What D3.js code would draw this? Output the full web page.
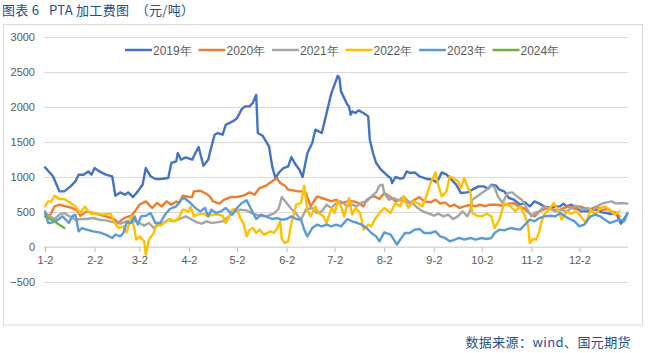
<!DOCTYPE html>
<html><head><meta charset="utf-8">
<script src="https://cdn.jsdelivr.net/npm/d3@7"></script>
<style>html,body{margin:0;padding:0;background:#fff;}svg{display:block;}</style>
</head><body><svg id="c" width="651" height="353"></svg>
<script>
// ---- data (day index: 1 = Jan 2) ----
const tickDays = [1,32,60,91,121,152,182,213,244,274,305,335];
const tickLabels = ["1-2","2-2","3-2","4-2","5-2","6-2","7-2","8-2","9-2","10-2","11-2","12-2"];
const yTicks = [-500,0,500,1000,1500,2000,2500,3000];
const seriesNames = ["2019年","2020年","2021年","2022年","2023年","2024年"];
const seriesColors = ["#4472C4","#ED7D31","#A5A5A5","#FFC000","#5B9BD5","#70AD47"];

const s2019 = [[1,1138],[6,1010],[10,795],[13,795],[17,866],[20,938],[22,1033],[25,1033],[28,1080],[30,1033],[32,1128],[35,1080],[39,1033],[43,1010],[45,733],[48,780],[51,747],[53,780],[56,714],[59,795],[62,890],[64,1128],[67,1010],[70,971],[73,971],[78,985],[80,1200],[83,1223],[84,1342],[86,1247],[89,1280],[93,1247],[95,1342],[97,1428],[100,1161],[103,1247],[104,1342],[107,1604],[109,1628],[112,1604],[114,1747],[117,1780],[119,1804],[121,1842],[124,1970],[126,2009],[129,2009],[131,2066],[133,2175],[134,1628],[137,1590],[141,1437],[143,1152],[145,985],[147,1057],[150,1128],[153,1152],[155,1285],[157,1200],[160,1104],[162,1000],[165,1342],[168,1485],[170,1676],[174,1628],[177,1914],[180,2199],[184,2447],[185,2413],[186,2223],[190,2033],[191,2009],[192,1890],[193,1937],[195,1914],[197,1952],[200,1914],[203,1866],[204,1533],[206,1342],[208,1200],[211,1104],[215,1019],[217,985],[218,914],[220,1000],[223,976],[225,985],[227,1080],[229,1057],[232,1066],[235,1010],[240,971],[243,962],[246,923],[249,1066],[252,1033],[255,962],[258,890],[261,771],[265,780],[268,819],[272,866],[275,866],[278,833],[280,890],[283,876],[285,819],[288,795],[291,700],[294,676],[298,604],[301,638],[304,581],[307,652],[310,619],[313,581],[317,557],[320,581],[323,581],[325,619],[327,581],[330,604],[333,557],[336,509],[340,509],[343,533],[346,533],[349,495],[352,486],[355,471],[358,486],[361,333],[362,367],[365,476]];
const s2020 = [[1,476],[4,447],[7,580],[10,604],[14,580],[18,557],[21,524],[23,447],[27,509],[31,486],[35,462],[39,438],[44,400],[47,343],[49,390],[52,428],[55,447],[58,533],[60,604],[64,652],[68,557],[71,628],[74,580],[77,652],[80,604],[83,652],[85,628],[87,733],[91,714],[93,714],[94,795],[98,804],[101,771],[104,723],[106,652],[110,619],[113,676],[117,714],[121,714],[125,733],[129,780],[132,747],[135,842],[139,876],[143,938],[146,985],[148,914],[151,876],[153,819],[156,809],[159,795],[162,795],[164,771],[167,580],[171,723],[174,700],[177,676],[180,652],[183,676],[186,628],[190,652],[194,652],[197,628],[200,580],[202,676],[205,714],[207,723],[210,685],[213,771],[217,714],[220,652],[223,676],[226,652],[229,628],[232,676],[235,714],[238,652],[242,638],[245,676],[248,619],[251,638],[254,580],[257,604],[260,557],[263,580],[267,604],[270,580],[273,604],[276,580],[279,604],[283,604],[287,590],[291,619],[294,628],[297,580],[300,557],[304,476],[307,438],[310,509],[315,557],[319,533],[322,509],[325,557],[329,580],[332,543],[335,580],[338,557],[342,543],[346,580],[349,524],[352,543],[355,509],[358,486],[360,438]];
const s2021 = [[1,476],[4,438],[7,400],[10,462],[13,486],[17,428],[20,390],[23,400],[27,400],[31,414],[35,390],[39,381],[44,352],[48,333],[52,367],[56,381],[60,343],[63,305],[66,343],[69,271],[72,319],[75,343],[78,390],[81,367],[85,400],[89,438],[93,390],[96,352],[99,333],[102,367],[105,343],[108,352],[112,367],[116,438],[119,495],[123,533],[127,524],[131,476],[135,447],[139,438],[144,476],[147,543],[149,714],[152,628],[155,543],[158,476],[161,390],[164,533],[168,557],[171,486],[174,509],[177,604],[180,557],[183,628],[186,652],[190,580],[193,604],[196,580],[199,638],[202,652],[205,723],[208,780],[210,876],[212,890],[213,771],[216,676],[219,700],[222,666],[225,723],[228,652],[231,619],[234,557],[237,509],[241,476],[244,447],[247,476],[250,438],[253,462],[256,400],[259,438],[262,509],[265,438],[267,533],[268,676],[271,723],[274,771],[277,819],[280,876],[282,857],[284,723],[287,628],[290,771],[293,780],[296,723],[299,676],[302,557],[305,438],[307,486],[310,509],[313,580],[317,543],[320,509],[323,533],[327,509],[330,557],[333,590],[336,533],[340,557],[343,509],[346,580],[349,619],[352,638],[355,652],[358,619],[361,628],[365,619]];
const s2022 = [[1,580],[3,652],[5,652],[7,733],[10,685],[13,685],[17,628],[20,580],[23,486],[26,580],[28,509],[30,476],[33,476],[37,462],[42,476],[44,367],[47,271],[50,295],[52,209],[55,438],[57,248],[58,105],[60,152],[63,81],[64,-109],[66,105],[69,200],[71,343],[73,305],[76,352],[79,400],[82,367],[85,428],[87,533],[91,509],[92,580],[94,438],[96,462],[100,476],[103,438],[105,462],[109,462],[112,447],[114,343],[118,533],[121,543],[123,414],[125,343],[127,152],[129,248],[131,271],[133,200],[135,248],[138,176],[142,224],[144,200],[146,257],[148,367],[149,114],[151,57],[153,81],[155,343],[158,604],[161,628],[163,876],[165,520],[167,438],[170,580],[172,486],[175,438],[177,343],[180,557],[182,486],[184,652],[186,580],[188,438],[191,700],[193,462],[195,557],[198,486],[200,248],[203,319],[205,295],[207,390],[210,486],[213,557],[217,486],[220,628],[223,580],[225,723],[228,557],[231,652],[234,628],[237,580],[240,771],[242,914],[244,1010],[245,1066],[247,866],[249,723],[252,795],[254,1010],[256,985],[259,938],[261,842],[263,985],[265,866],[267,771],[268,486],[271,447],[274,438],[277,476],[280,438],[282,271],[285,390],[288,628],[292,580],[295,509],[298,580],[301,438],[303,295],[304,57],[306,114],[308,105],[310,224],[311,343],[313,462],[316,533],[319,628],[322,509],[324,390],[327,509],[330,476],[333,509],[336,438],[339,343],[342,533],[345,462],[348,557],[351,580],[354,533],[357,462],[360,509]];
const s2023 = [[1,509],[3,343],[6,352],[9,390],[12,438],[16,343],[18,438],[20,462],[22,224],[24,271],[27,248],[31,224],[35,209],[39,176],[43,129],[45,176],[48,152],[50,200],[52,352],[55,343],[57,438],[59,319],[61,438],[64,447],[67,486],[70,343],[73,343],[76,462],[79,543],[83,580],[86,676],[88,700],[92,628],[95,557],[98,509],[101,557],[103,438],[105,533],[108,486],[111,509],[114,557],[118,462],[121,557],[124,628],[127,666],[129,580],[131,486],[133,400],[136,462],[139,438],[143,400],[146,414],[149,390],[152,400],[155,438],[158,400],[161,390],[163,248],[165,152],[168,271],[171,319],[174,295],[177,319],[180,295],[183,319],[186,295],[190,400],[193,367],[196,343],[199,319],[202,271],[205,200],[208,152],[210,81],[213,209],[217,176],[219,105],[221,33],[223,105],[226,200],[229,200],[232,248],[235,257],[238,200],[242,200],[245,224],[248,152],[251,129],[254,81],[257,105],[260,129],[263,105],[267,129],[270,105],[274,129],[277,114],[280,129],[282,200],[285,248],[288,238],[292,271],[295,257],[298,248],[301,319],[304,390],[307,367],[310,414],[313,438],[317,447],[320,438],[323,486],[326,438],[329,400],[332,367],[335,295],[338,319],[342,438],[345,462],[348,438],[351,390],[354,343],[357,367],[360,390],[363,367],[365,486]];
const s2024 = [[1,438],[4,400],[6,381],[9,333],[11,305],[13,271]];
const seriesData = [s2019,s2020,s2021,s2022,s2023,s2024];

// ---- drawing ----
const svg = d3.select("#c");
const x = d3.scaleLinear().domain([1,366]).range([45,629]);
const y = d3.scaleLinear().domain([-500,3000]).range([282,37]);
const font = "'Liberation Sans', Arial, sans-serif";
const cjk = "'Noto Sans CJK SC', sans-serif";

svg.append("rect").attr("x",3.5).attr("y",24.5).attr("width",639).attr("height",300.5)
  .attr("fill","none").attr("stroke","#d9d9d9");

svg.append("text").attr("x",2).attr("y",14.5).attr("font-family",cjk).attr("font-size",13)
  .attr("fill","#1F4E8C").style("white-space","pre").attr("letter-spacing",0.3)
  .text("图表 6   PTA 加工费图  （元/吨）");

// gridlines + y labels
const yAxis = d3.axisLeft(y).tickValues(yTicks).tickFormat(d3.format("d")).tickSize(-(628-44)).tickPadding(9);
const gy = svg.append("g").attr("transform","translate(44,0)").call(yAxis);
gy.select(".domain").remove();
gy.selectAll(".tick line").attr("stroke","#d9d9d9");
gy.selectAll(".tick text").attr("font-family",font).attr("font-size",11).attr("fill","#595959");

// x axis at zero
const xAxis = d3.axisBottom(x).tickValues(tickDays).tickFormat((d,i)=>tickLabels[i]).tickSize(5).tickSizeOuter(0).tickPadding(4);
const gx = svg.append("g").attr("transform",`translate(0,${y(0)})`).call(xAxis);
gx.select(".domain").attr("stroke","#d9d9d9").attr("d",`M44,0H628`);
gx.selectAll(".tick line").attr("stroke","#bfbfbf");
gx.selectAll(".tick text").attr("font-family",font).attr("font-size",11).attr("fill","#595959");

// lines
const line = d3.line().x(d=>x(d[0])).y(d=>y(d[1]));
seriesData.forEach((s,i)=>{
  svg.append("path").datum(s).attr("d",line).attr("fill","none")
    .attr("stroke",seriesColors[i]).attr("stroke-width",2.4)
    .attr("stroke-linejoin","round").attr("stroke-linecap","round");
});

// legend
const lg = svg.append("g");
seriesNames.forEach((n,i)=>{
  const x0 = 125 + i*73.5;
  lg.append("line").attr("x1",x0).attr("x2",x0+27).attr("y1",50).attr("y2",50)
    .attr("stroke",seriesColors[i]).attr("stroke-width",2.5);
  lg.append("text").attr("x",x0+28).attr("y",54.5).attr("font-family",font).attr("font-size",12)
    .attr("fill","#595959").text(n);
});

// footer
svg.append("text").attr("x",631).attr("y",347).attr("text-anchor","end").attr("font-family",cjk)
  .attr("font-size",13).attr("fill","#1F4E8C").attr("letter-spacing",0.4).text("数据来源：wind、国元期货");
</script></body></html>
